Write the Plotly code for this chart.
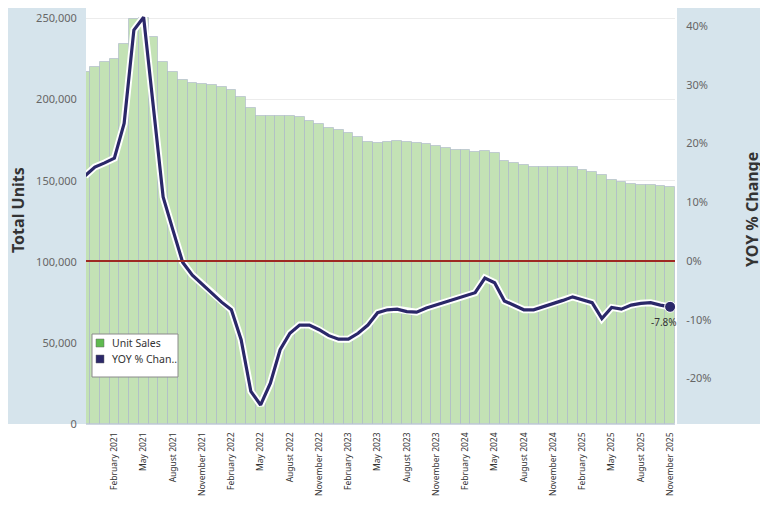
import pandas as pd
import plotly.graph_objects as go

# monthly categories, Nov 2020 .. Nov 2025
months = [d.strftime('%B %Y') for d in pd.date_range('2020-11-01', '2025-11-01', freq='MS')]

unit_sales = [
    217300, 220400, 222900, 224900, 234000, 249500, 250500, 238400, 223400, 217000,
    211900, 210100, 209400, 208800, 207600, 206200, 201600, 195000, 189900, 189900,
    190000, 190000, 189300, 186900, 184800, 182800, 181000, 179300, 176900, 173800,
    173400, 173800, 174300, 173900, 173000, 172400, 171400, 170400, 168700, 168700,
    168000, 168600, 167100, 162100, 160900, 159500, 158200, 158200, 158200, 158200,
    158200, 156800, 155300, 153300, 150600, 149000, 148200, 147400, 147400, 146800,
    146000,
]

yoy_pct = [
    14.5, 16.0, 16.7, 17.5, 23.4, 39.3, 41.5, 26.6, 10.9, 5.3,
    -0.2, -2.4, -3.9, -5.4, -7.0, -8.3, -13.4, -22.2, -24.5, -20.8,
    -15.1, -12.3, -10.9, -10.9, -11.7, -12.7, -13.3, -13.3, -12.3, -10.9,
    -8.8, -8.3, -8.2, -8.6, -8.7, -8.0, -7.5, -6.9, -6.5, -6.0,
    -5.4, -2.9, -3.7, -6.8, -7.5, -8.3, -8.3, -7.8, -7.3, -6.7,
    -6.1, -6.6, -7.1, -9.8, -7.9, -8.2, -7.5, -7.2, -7.1, -7.5,
    -7.8,
]

tick_months = months[3::3]
pct_ticks = [-20, -10, 0, 10, 20, 30, 40]
legend_items = [('Unit Sales', '#5fba4f'), ('YOY % Chan..', '#2b2869')]

BAR_GREEN = '#c3e2b5'
NAVY = '#2b2869'
PANEL = '#d6e4ec'
FONT = 'Noto Sans'

# plot area is 589 x 416 px, left at 86 / bottom at 424 in page pixels
def px(x):
    return (x - 86) / 589

def py(y):
    return (424 - y) / 416

fig = go.Figure()

fig.add_trace(go.Bar(
    x=months, y=unit_sales,
    marker=dict(color=BAR_GREEN, line=dict(color='rgba(165,175,200,0.55)', width=1)),
    showlegend=False, hoverinfo='skip'))

# white halo under the yoy line
fig.add_trace(go.Scatter(
    x=months, y=yoy_pct, yaxis='y2', mode='lines',
    line=dict(color='white', width=7), showlegend=False, hoverinfo='skip'))
fig.add_trace(go.Scatter(
    x=months, y=yoy_pct, yaxis='y2', mode='lines',
    line=dict(color=NAVY, width=3.2), showlegend=False))
fig.add_trace(go.Scatter(
    x=[months[-1]], y=[yoy_pct[-1]], yaxis='y2', mode='markers',
    marker=dict(color=NAVY, size=11, line=dict(color='white', width=1)), showlegend=False))

shapes = [
    dict(type='rect', xref='paper', yref='paper', x0=-0.14, x1=0, y0=0, y1=1,
         fillcolor=PANEL, line=dict(width=0), layer='below'),
    dict(type='rect', xref='paper', yref='paper', x0=1.0034, x1=1.17, y0=0, y1=1,
         fillcolor=PANEL, line=dict(width=0), layer='below'),
    dict(type='line', xref='paper', yref='y2', x0=0, x1=1, y0=0, y1=0,
         line=dict(color='#9e2a22', width=2), layer='above'),
    # legend box
    dict(type='rect', xref='paper', yref='paper', x0=px(92), x1=px(178), y0=py(377), y1=py(334),
         fillcolor='white', line=dict(color='#8a8a8a', width=1), layer='above'),
]
annotations = [
    dict(text='<b>Total Units</b>', xref='paper', yref='paper', x=px(18), y=py(210),
         xanchor='center', yanchor='middle',
         textangle=-90, showarrow=False, font=dict(size=16, color='#333')),
    dict(text='<b>YOY % Change</b>', xref='paper', yref='paper', x=px(752), y=py(210),
         xanchor='center', yanchor='middle',
         textangle=-90, showarrow=False, font=dict(size=16, color='#333')),
    dict(text=f'{yoy_pct[-1]:.1f}%', x=months[-1], y=yoy_pct[-1], yref='y2',
         showarrow=False, xanchor='center', yanchor='top', xshift=-6, yshift=-6,
         font=dict(size=10, color='#333')),
]

for i, (label, color) in enumerate(legend_items):
    yc = 343 + i * 16
    shapes.append(dict(type='rect', xref='paper', yref='paper',
                       x0=px(96), x1=px(104), y0=py(yc + 4), y1=py(yc - 4),
                       fillcolor=color, line=dict(color='#666', width=0.5), layer='above'))
    annotations.append(dict(text=label, xref='paper', yref='paper', x=px(110), y=py(yc),
                            xanchor='left', yanchor='middle', showarrow=False,
                            font=dict(size=10.5, color='#333')))

fig.update_layout(
    width=760, height=500,
    margin=dict(l=78, r=93, t=0, b=84, autoexpand=False),
    paper_bgcolor='white', plot_bgcolor='white',
    font=dict(family=FONT, color='#555'),
    bargap=0, showlegend=False,
    xaxis=dict(type='category', range=[0.09, 60.5], tickmode='array', tickvals=tick_months,
               ticktext=tick_months, tickangle=-90, tickfont=dict(size=8.5, color='#333'),
               ticks='outside', ticklen=4, tickcolor='rgba(0,0,0,0)', automargin=False,
               showgrid=False, showline=True, linecolor='#cfd8e0', linewidth=1),
    yaxis=dict(range=[0, 256500], tickvals=[0, 50000, 100000, 150000, 200000, 250000],
               tickformat=',', tickfont=dict(size=11, color='#666'), automargin=False,
               ticks='outside', ticklen=6, tickcolor='rgba(0,0,0,0)',
               showgrid=True, gridcolor='#ececec', zeroline=False),
    yaxis2=dict(overlaying='y', side='right', range=[-27.74, 43.06],
                tickmode='array', tickvals=pct_ticks, ticktext=[f'{v}%' for v in pct_ticks],
                tickfont=dict(size=11, color='#666'), automargin=False,
                ticks='outside', ticklen=8, tickcolor='rgba(0,0,0,0)',
                showgrid=False, zeroline=False),
    shapes=shapes,
    annotations=annotations,
)

fig.write_html('out.html')
